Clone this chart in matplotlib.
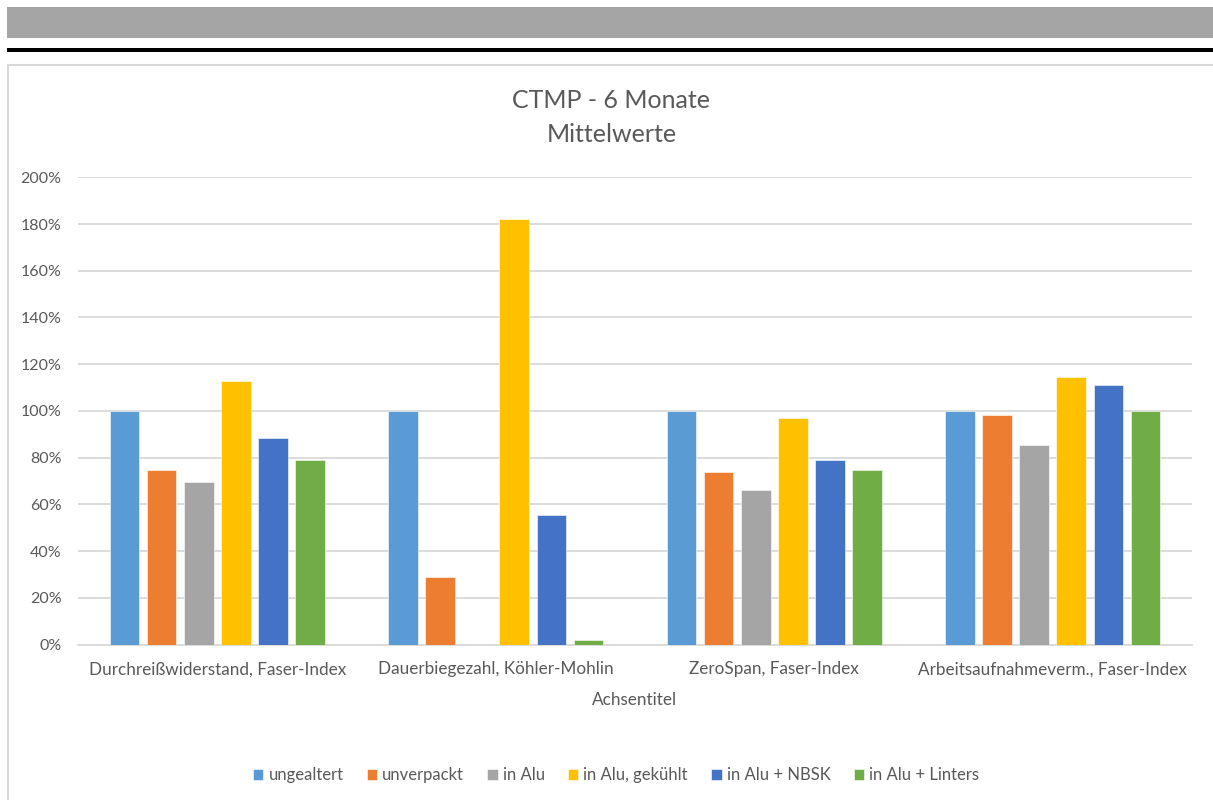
import matplotlib
matplotlib.use("Agg")
import matplotlib.pyplot as plt
from matplotlib.patches import Rectangle
import numpy as np

plt.rcParams['font.family'] = ['Lato', 'DejaVu Sans']

categories = ["Durchreißwiderstand, Faser-Index", "Dauerbiegezahl, Köhler-Mohlin",
              "ZeroSpan, Faser-Index", "Arbeitsaufnahmeverm., Faser-Index"]
series_names = ["ungealtert", "unverpackt", "in Alu", "in Alu, gekühlt", "in Alu + NBSK", "in Alu + Linters"]
ungealtert = [100, 100, 100, 100]
unverpackt = [74.6, 28.9, 73.9, 98.4]
in_alu = [69.6, 0, 66.0, 85.2]
in_alu_gekuehlt = [113.0, 182.2, 97.0, 114.3]
in_alu_nbsk = [88.6, 55.4, 78.9, 110.9]
in_alu_linters = [78.9, 2.0, 74.6, 100.0]
yticks = [0, 20, 40, 60, 80, 100, 120, 140, 160, 180, 200]
title_line1 = "CTMP - 6 Monate"
title_line2 = "Mittelwerte"
xlabel = "Achsentitel"

values = [ungealtert, unverpackt, in_alu, in_alu_gekuehlt, in_alu_nbsk, in_alu_linters]
colors = ["#5B9BD5", "#ED7D31", "#A5A5A5", "#FFC000", "#4472C4", "#70AD47"]

W, H = 1213, 800
fig = plt.figure(figsize=(W / 100, H / 100), dpi=100)

def fx(px):
    return px / W

def fy(py):
    return 1 - py / H

# header decorations
fig.patches.append(Rectangle((fx(7), fy(38)), fx(W - 7), 31 / H, transform=fig.transFigure,
                             facecolor="#A5A5A5", edgecolor="none"))
fig.patches.append(Rectangle((fx(7), fy(48.5)), fx(W - 7), 1 / H, transform=fig.transFigure,
                             facecolor="#D9D9D9", edgecolor="none"))
fig.patches.append(Rectangle((fx(7), fy(52)), fx(W - 7), 3.5 / H, transform=fig.transFigure,
                             facecolor="black", edgecolor="none"))
# chart frame
fig.lines.append(plt.Line2D([fx(8), fx(8)], [fy(64.5), 0], transform=fig.transFigure,
                            color="#D9D9D9", lw=1.5))
fig.lines.append(plt.Line2D([fx(8), 1], [fy(64.5), fy(64.5)], transform=fig.transFigure,
                            color="#D9D9D9", lw=1.5))

left, right = 78, 1192
top, bottom = 177.3, 644.5
ax = fig.add_axes([fx(left), fy(bottom), fx(right - left), (bottom - top) / H])

x = np.arange(len(categories))
bw = 0.1066
step = 0.1332
for i, (name, vals, c) in enumerate(zip(series_names, values, colors)):
    ax.bar(x + (i - 2.5) * step, vals, width=bw, color=c, label=name,
           edgecolor="white", linewidth=0.4, zorder=3)

ax.set_xlim(-0.5, len(categories) - 0.5)
ax.set_ylim(0, 200)
ax.set_yticks(yticks)
ax.set_yticklabels([f"{v}%" for v in yticks])
ax.yaxis.grid(True, color="#D9D9D9", lw=1.3, zorder=0)
ax.set_axisbelow(True)
for s in ["top", "right", "left"]:
    ax.spines[s].set_visible(False)
ax.spines["bottom"].set_color("#D9D9D9")
ax.spines["bottom"].set_linewidth(1.3)
ax.tick_params(axis="y", length=0, labelsize=11.5, labelcolor="#595959", pad=12)
ax.tick_params(axis="x", length=0, labelsize=12.3, labelcolor="#595959", pad=12)
ax.set_xticks(x)
ax.set_xticklabels(categories)

fig.text(fx(635), fy(700), xlabel, ha="center", va="center", fontsize=12.3, color="#595959")
fig.text(fx(611), fy(101), title_line1, ha="center", va="center", fontsize=18, color="#595959")
fig.text(fx(612), fy(134), title_line2, ha="center", va="center", fontsize=18, color="#595959")

handles, labels = ax.get_legend_handles_labels()
leg = fig.legend(handles, labels, loc="center", bbox_to_anchor=(fx(616), fy(775)), ncol=6,
                 frameon=False, fontsize=12, handlelength=0.62, handleheight=0.62,
                 handletextpad=0.3, columnspacing=1.4, labelcolor="#595959")

fig.savefig("out.png", dpi=100, facecolor="white")
